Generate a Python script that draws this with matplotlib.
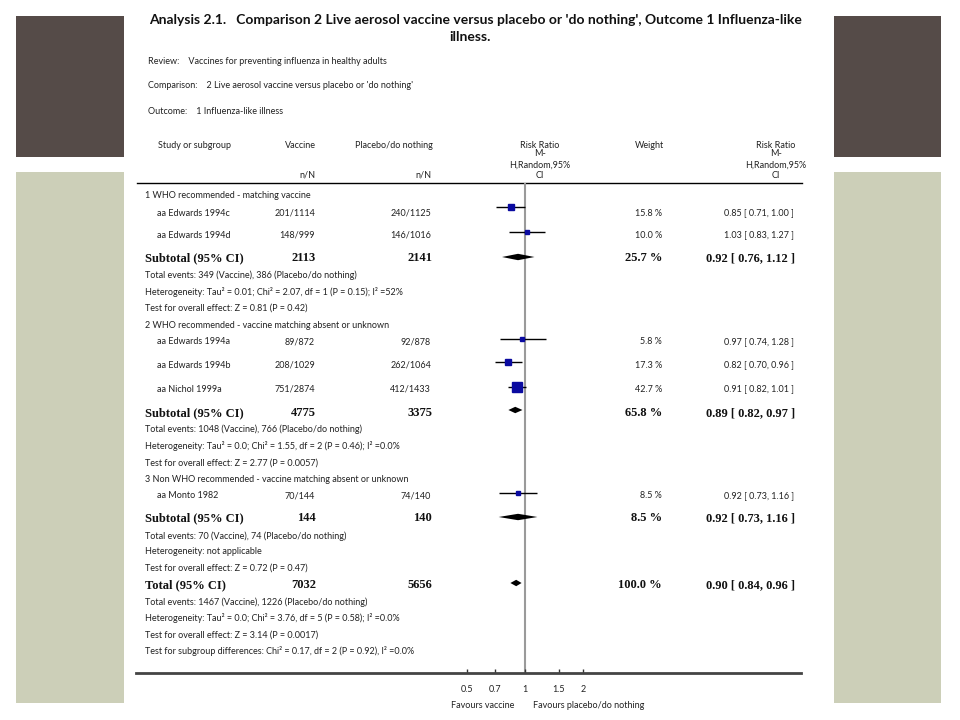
import numpy as np
import matplotlib
matplotlib.use("Agg")
import matplotlib.pyplot as plt
from matplotlib.patches import Rectangle

# ---------------- data ----------------
title_lines = ["Analysis 2.1.   Comparison 2 Live aerosol vaccine versus placebo or 'do nothing', Outcome 1 Influenza-like",
               "illness."]
review = "Review:    Vaccines for preventing influenza in healthy adults"
comparison = "Comparison:    2 Live aerosol vaccine versus placebo or 'do nothing'"
outcome = "Outcome:    1 Influenza-like illness"

group_names = ["1 WHO recommended - matching vaccine",
               "2 WHO recommended - vaccine matching absent or unknown",
               "3 Non WHO recommended - vaccine matching absent or unknown"]
study_names = ["aa Edwards 1994c", "aa Edwards 1994d", "aa Edwards 1994a",
               "aa Edwards 1994b", "aa Nichol 1999a", "aa Monto 1982"]
study_group = [0, 0, 1, 1, 1, 2]
vaccine_nN = ["201/1114", "148/999", "89/872", "208/1029", "751/2874", "70/144"]
placebo_nN = ["240/1125", "146/1016", "92/878", "262/1064", "412/1433", "74/140"]
study_rr = [0.85, 1.03, 0.97, 0.82, 0.91, 0.92]
study_lo = [0.71, 0.83, 0.74, 0.70, 0.82, 0.73]
study_hi = [1.00, 1.27, 1.28, 0.96, 1.01, 1.16]
study_weight = [15.8, 10.0, 5.8, 17.3, 42.7, 8.5]

sub_vaccine_N = [2113, 4775, 144]
sub_placebo_N = [2141, 3375, 140]
sub_rr = [0.92, 0.89, 0.92]
sub_lo = [0.76, 0.82, 0.73]
sub_hi = [1.12, 0.97, 1.16]
sub_weight = [25.7, 65.8, 8.5]
sub_events = ["Total events: 349 (Vaccine), 386 (Placebo/do nothing)",
              "Total events: 1048 (Vaccine), 766 (Placebo/do nothing)",
              "Total events: 70 (Vaccine), 74 (Placebo/do nothing)"]
sub_het = ["Heterogeneity: Tau² = 0.01; Chi² = 2.07, df = 1 (P = 0.15); I² =52%",
           "Heterogeneity: Tau² = 0.0; Chi² = 1.55, df = 2 (P = 0.46); I² =0.0%",
           "Heterogeneity: not applicable"]
sub_test = ["Test for overall effect: Z = 0.81 (P = 0.42)",
            "Test for overall effect: Z = 2.77 (P = 0.0057)",
            "Test for overall effect: Z = 0.72 (P = 0.47)"]

total_vaccine_N = 7032
total_placebo_N = 5656
total_rr, total_lo, total_hi, total_weight = 0.90, 0.84, 0.96, 100.0
total_notes = ["Total events: 1467 (Vaccine), 1226 (Placebo/do nothing)",
               "Heterogeneity: Tau² = 0.0; Chi² = 3.76, df = 5 (P = 0.58); I² =0.0%",
               "Test for overall effect: Z = 3.14 (P = 0.0017)",
               "Test for subgroup differences: Chi² = 0.17, df = 2 (P = 0.92), I² =0.0%"]

rr_header_lines = ["Risk Ratio", "M-", "H,Random,95%", "CI"]
tick_values = [0.5, 0.7, 1, 1.5, 2]
tick_labels = ["0.5", "0.7", "1", "1.5", "2"]
favours = ["Favours vaccine", "Favours placebo/do nothing"]

# ---------------- layout (pixel rows) ----------------
group_y = [195, 325, 479]
study_y = [213, 235, 342, 365, 389, 496]
marker_y = [207, 232, 339, 362, 387, 493]
sub_y = [258, 413, 518]
sub_diamond_y = [257, 410, 517]
sub_note_y = [[275, 292, 308], [429, 446, 463], [536, 552, 568]]
total_y = 585
total_diamond_y = 583
total_note_y = [602, 618, 635, 651]
rr_header_y = [145, 154, 165, 176]

SANS = ["Lato", "DejaVu Sans"]
SERIF = ["Liberation Serif", "DejaVu Serif"]
small = dict(family=SANS, fontsize=6.5, color="#222222", va="center")
bolds = dict(family=SERIF, fontsize=9.0, fontweight="bold", color="#111111", va="center")

fig = plt.figure(figsize=(9.6, 7.2), dpi=100)
bg = fig.add_axes([0, 0, 1, 1])
bg.set_xlim(0, 960)
bg.set_ylim(720, 0)
bg.axis("off")

# slide decorations
dark = "#554B48"
green = "#CCCFB8"
for x0, w in [(16, 108), (834, 107)]:
    bg.add_patch(Rectangle((x0, 16), w, 141, color=dark, lw=0))
    bg.add_patch(Rectangle((x0, 172), w, 531, color=green, lw=0))
bg.add_patch(Rectangle((124, 0), 710, 720, color="white", lw=0))

# title & header info
bg.text(476, 20, title_lines[0], family=SANS, fontsize=10.0, fontweight="bold",
        ha="center", va="center", color="#111111")
bg.text(470, 37, title_lines[1], family=SANS, fontsize=10.0, fontweight="bold",
        ha="center", va="center", color="#111111")
bg.text(148, 61, review, ha="left", **small)
bg.text(148, 86, comparison, ha="left", **small)
bg.text(148, 111, outcome, ha="left", **small)

# column headers
bg.text(158, 145, "Study or subgroup", ha="left", **small)
bg.text(316, 145, "Vaccine", ha="right", **small)
bg.text(433, 145, "Placebo/do nothing", ha="right", **small)
bg.text(316, 175, "n/N", ha="right", **small)
bg.text(432, 175, "n/N", ha="right", **small)
for line, ly in zip(rr_header_lines, rr_header_y):
    bg.text(540, ly, line, ha="center", **small)
    bg.text(776, ly, line, ha="center", **small)
bg.text(649, 145, "Weight", ha="center", **small)
bg.plot([137, 802], [183, 183], color="black", lw=1.0)

def ci_text(r, l, h):
    return f"{r:.2f} [ {l:.2f}, {h:.2f} ]"

# groups and studies
for g in range(3):
    bg.text(145, group_y[g], group_names[g], ha="left", **small)
for i in range(len(study_names)):
    y = study_y[i]
    bg.text(157, y, study_names[i], ha="left", **small)
    bg.text(315, y, vaccine_nN[i], ha="right", **small)
    bg.text(431, y, placebo_nN[i], ha="right", **small)
    bg.text(662, y, f"{study_weight[i]:.1f} %", ha="right", **small)
    bg.text(794, y, ci_text(study_rr[i], study_lo[i], study_hi[i]), ha="right", **small)

for g in range(3):
    y = sub_y[g]
    bg.text(145, y, "Subtotal (95% CI)", ha="left", **bolds)
    bg.text(316, y, f"{sub_vaccine_N[g]}", ha="right", **bolds)
    bg.text(432, y, f"{sub_placebo_N[g]}", ha="right", **bolds)
    bg.text(662, y, f"{sub_weight[g]:.1f} %", ha="right", **bolds)
    bg.text(795, y, ci_text(sub_rr[g], sub_lo[g], sub_hi[g]), ha="right", **bolds)
    for txt, ny in zip([sub_events[g], sub_het[g], sub_test[g]], sub_note_y[g]):
        bg.text(145, ny, txt, ha="left", **small)

bg.text(145, total_y, "Total (95% CI)", ha="left", **bolds)
bg.text(316, total_y, f"{total_vaccine_N}", ha="right", **bolds)
bg.text(432, total_y, f"{total_placebo_N}", ha="right", **bolds)
bg.text(662, total_y, f"{total_weight:.1f} %", ha="right", **bolds)
bg.text(795, total_y, ci_text(total_rr, total_lo, total_hi), ha="right", **bolds)
for txt, ny in zip(total_notes, total_note_y):
    bg.text(145, ny, txt, ha="left", **small)

bg.text(483, 706, favours[0], ha="center", **small)
bg.text(589, 706, favours[1], ha="center", **small)

# ---------------- forest axes ----------------
px_per_ln = 83.7
x_one = 525
left_px, right_px, top_px, bot_px = 136, 801, 183, 673
ax = fig.add_axes([left_px / 960, (720 - bot_px) / 720,
                   (right_px - left_px) / 960, (bot_px - top_px) / 720])
ax.patch.set_visible(False)
ax.set_xscale("log")
ax.set_xlim(np.exp((left_px - x_one) / px_per_ln), np.exp((right_px - x_one) / px_per_ln))
ax.set_ylim(bot_px, top_px)
for s in ["left", "right", "top"]:
    ax.spines[s].set_visible(False)
ax.spines["bottom"].set_linewidth(2.0)
ax.spines["bottom"].set_color("#444444")
ax.set_yticks([])
ax.xaxis.set_minor_locator(matplotlib.ticker.NullLocator())
ax.set_xticks(tick_values)
ax.set_xticklabels(tick_labels)
ax.tick_params(axis="x", direction="in", length=3, width=1, color="#333333",
               pad=9, labelsize=6.5, labelcolor="#222222")
for lab in ax.get_xticklabels():
    lab.set_family(SANS)

ax.axvline(1, color="#9a9a9a", lw=1.5, zorder=1)

for i in range(len(study_names)):
    ax.hlines(marker_y[i], study_lo[i], study_hi[i], color="black", lw=1.0, zorder=2)
    side_px = 1.4 * np.sqrt(study_weight[i])
    ax.plot(study_rr[i], marker_y[i], marker="s", ms=side_px * 0.72,
            color="#0a0aa0", mec="#0a0aa0", zorder=3)

def diamond(r, l, h, y, half=3.2):
    ax.fill([l, r, h, r], [y, y - half, y, y + half], color="black", lw=0, zorder=3)

for g in range(3):
    diamond(sub_rr[g], sub_lo[g], sub_hi[g], sub_diamond_y[g])
diamond(total_rr, total_lo, total_hi, total_diamond_y)

fig.savefig("out.png", dpi=100)
